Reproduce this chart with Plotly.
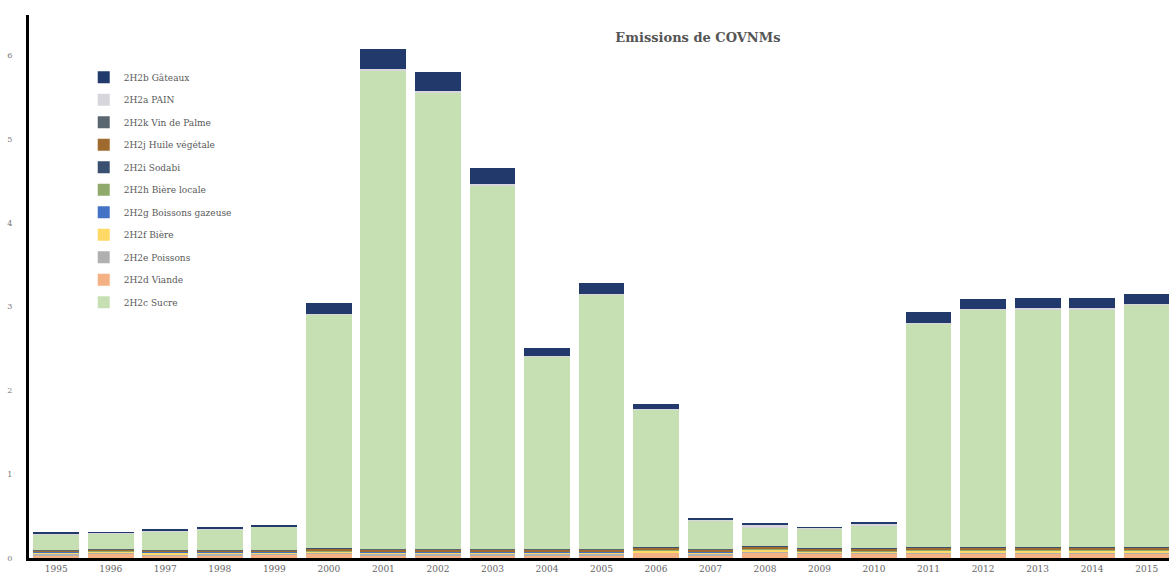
import plotly.graph_objects as go

# Years on the category axis
years = [str(y) for y in range(1995, 2016)]

# Emissions by source category (stacked bottom to top)
viande = [0.03, 0.05, 0.03, 0.03, 0.04, 0.05, 0.03, 0.03, 0.03, 0.03, 0.03, 0.06, 0.03, 0.06, 0.05, 0.05, 0.05, 0.05, 0.05, 0.05, 0.05]
poissons = [0.02, 0.01, 0.01, 0.02, 0.01, 0.01, 0.02, 0.02, 0.02, 0.02, 0.02, 0.01, 0.02, 0.01, 0.01, 0.01, 0.01, 0.01, 0.01, 0.01, 0.01]
biere = [0.02, 0.02, 0.03, 0.02, 0.02, 0.02, 0.02, 0.02, 0.02, 0.02, 0.02, 0.02, 0.02, 0.03, 0.02, 0.02, 0.03, 0.03, 0.03, 0.03, 0.03]
boissons = [0.003, 0.003, 0.003, 0.003, 0.003, 0.003, 0.003, 0.003, 0.003, 0.003, 0.003, 0.003, 0.003, 0.003, 0.003, 0.003, 0.003, 0.003, 0.003, 0.003, 0.003]
biere_locale = [0.01, 0.01, 0.01, 0.01, 0.01, 0.01, 0.01, 0.01, 0.01, 0.01, 0.01, 0.01, 0.01, 0.01, 0.01, 0.01, 0.01, 0.01, 0.01, 0.01, 0.01]
huile = [0.01, 0.01, 0.01, 0.01, 0.01, 0.02, 0.02, 0.02, 0.02, 0.02, 0.02, 0.02, 0.02, 0.02, 0.02, 0.02, 0.02, 0.02, 0.02, 0.02, 0.02]
vin_palme = [0.005, 0.005, 0.005, 0.005, 0.005, 0.005, 0.005, 0.005, 0.005, 0.005, 0.005, 0.005, 0.005, 0.005, 0.005, 0.005, 0.005, 0.005, 0.005, 0.005, 0.005]
sodabi = [0.002, 0.002, 0.002, 0.002, 0.002, 0.002, 0.002, 0.002, 0.002, 0.002, 0.002, 0.002, 0.002, 0.002, 0.002, 0.002, 0.002, 0.002, 0.002, 0.002, 0.002]
sucre = [0.18, 0.18, 0.22, 0.24, 0.27, 2.78, 5.71, 5.45, 4.34, 2.29, 3.03, 1.64, 0.34, 0.22, 0.23, 0.27, 2.67, 2.83, 2.84, 2.84, 2.89]
pain = [0.01, 0.01, 0.01, 0.01, 0.01, 0.01, 0.01, 0.01, 0.01, 0.01, 0.01, 0.01, 0.01, 0.04, 0.01, 0.02, 0.01, 0.01, 0.01, 0.01, 0.01]
gateaux = [0.01, 0.01, 0.01, 0.02, 0.01, 0.13, 0.25, 0.23, 0.19, 0.10, 0.13, 0.06, 0.01, 0.01, 0.01, 0.01, 0.12, 0.12, 0.12, 0.12, 0.12]

# (name, values, colour, legend rank)
series = [
    ("2H2d Viande", viande, "#F4B183", 10),
    ("2H2e Poissons", poissons, "#B0B0B0", 9),
    ("2H2f Bière", biere, "#FFD966", 8),
    ("2H2g Boissons gazeuse", boissons, "#4472C4", 7),
    ("2H2h Bière locale", biere_locale, "#8FAA6A", 6),
    ("2H2j Huile végétale", huile, "#9E6A2E", 4),
    ("2H2k Vin de Palme", vin_palme, "#5A6670", 3),
    ("2H2i Sodabi", sodabi, "#3A5070", 5),
    ("2H2c Sucre", sucre, "#C6E0B4", 11),
    ("2H2a PAIN", pain, "#D6D6DC", 2),
    ("2H2b Gâteaux", gateaux, "#213A6B", 1),
]

fig = go.Figure()
for name, vals, color, rank in series:
    fig.add_trace(go.Bar(
        x=years, y=vals, name=name,
        marker=dict(color=color, line=dict(width=0)),
        legendrank=rank, legendgroup=name,
    ))

fig.update_layout(
    barmode="stack",
    bargap=0.16,
    width=1169, height=574,
    margin=dict(l=29, r=0, t=15, b=16),
    paper_bgcolor="white", plot_bgcolor="white",
    font=dict(family="DejaVu Serif", color="#595959", size=9),
    title=dict(
        text="<b>Emissions de COVNMs</b>",
        x=0.597, xanchor="center", y=0.935, yanchor="middle",
        font=dict(family="DejaVu Serif", size=13, color="#555555"),
    ),
    legend=dict(
        x=0.048, xanchor="left", y=0.912, yanchor="top",
        font=dict(family="DejaVu Serif", size=9, color="#595959"),
        tracegroupgap=3.5,
        itemwidth=30,
        bgcolor="rgba(0,0,0,0)",
    ),
    showlegend=True,
)

fig.update_xaxes(
    range=[-0.5, 20.41],
    showline=True, linecolor="black", linewidth=3,
    showgrid=False, ticks="", tickfont=dict(size=9, color="#666666"),
)
fig.update_yaxes(
    range=[0, 6.48],
    tickvals=[0, 1, 2, 3, 4, 5, 6],
    showline=True, linecolor="black", linewidth=3,
    showgrid=False, zeroline=False, ticks="",
    ticklabelstandoff=12,
    tickfont=dict(size=8, color="#777777"),
)

fig.write_html("out.html")
